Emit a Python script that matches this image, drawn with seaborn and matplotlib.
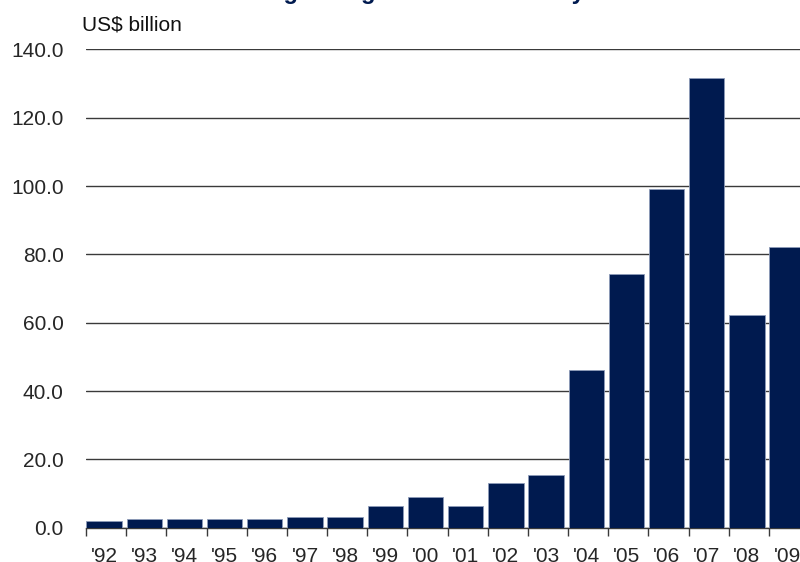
"""
Outbound investment by year, US$ billion
"""
#------------------------------------------------------------------------------
# Libraries
#------------------------------------------------------------------------------

import numpy as np
import pandas as pd
import seaborn as sns
import matplotlib.pyplot as plt

#------------------------------------------------------------------------------
# Data
#------------------------------------------------------------------------------

years = ["'92", "'93", "'94", "'95", "'96", "'97", "'98", "'99", "'00",
         "'01", "'02", "'03", "'04", "'05", "'06", "'07", "'08", "'09"]
values = [1.9, 2.5, 2.5, 2.5, 2.5, 3.0, 3.0, 6.5, 8.9,
          6.5, 13.0, 15.4, 46.2, 74.4, 99.1, 131.5, 62.2, 82.3]
yticks = [0, 20, 40, 60, 80, 100, 120, 140]

navy = '#001A4F'
df = pd.DataFrame({'year': years, 'value': values})

#------------------------------------------------------------------------------
# Plot
#------------------------------------------------------------------------------

sns.set_style('white')
plt.rcParams['font.family'] = ['Liberation Sans', 'DejaVu Sans']

fig = plt.figure(figsize = (8, 5.62), dpi = 100)
ax = fig.add_axes([0.1075, 0.061, 0.904, 0.851])

sns.barplot(data = df, x = 'year', y = 'value', color = navy,
            saturation = 1, width = 0.88, edgecolor = '#8d9bb8',
            linewidth = 0.6, ax = ax, zorder = 3)

ax.set_ylim(0, 140)
ax.set_xlim(-0.45, len(years) - 0.45)
ax.set_yticks(yticks)
ax.set_yticklabels([f'{v:.1f}' for v in yticks])
ax.yaxis.grid(True, color = '#3a3a3a', linewidth = 1.0, zorder = 0)
ax.set_axisbelow(True)

# category boundary ticks
ax.set_xticks(np.arange(len(years)) - 0.45, minor = True)
ax.tick_params(axis = 'x', which = 'minor', length = 6, width = 1,
               color = '#3a3a3a', direction = 'out', bottom = True)
ax.tick_params(axis = 'x', which = 'major', length = 0, pad = 14,
               labelsize = 15)
ax.tick_params(axis = 'y', length = 0, pad = 16, labelsize = 15)

for s in ['top', 'right', 'left']:
    ax.spines[s].set_visible(False)
ax.spines['bottom'].set_color('#3a3a3a')
ax.spines['bottom'].set_linewidth(1.0)
ax.set_xlabel('')
ax.set_ylabel('')

fig.text(82 / 800, 1 - 31 / 562, 'US$ billion', fontsize = 15,
         ha = 'left', va = 'baseline', color = '#111111')
# title sits mostly above the visible area, as in the cropped original
fig.text(208 / 800, 1 + 1.5 / 562, "Asia's growing outbound M&A by value",
         fontsize = 17, fontweight = 'bold', color = navy,
         ha = 'left', va = 'baseline')

plt.savefig('out.png', dpi = 100)

#------------------------------------------------------------------------------
# END
